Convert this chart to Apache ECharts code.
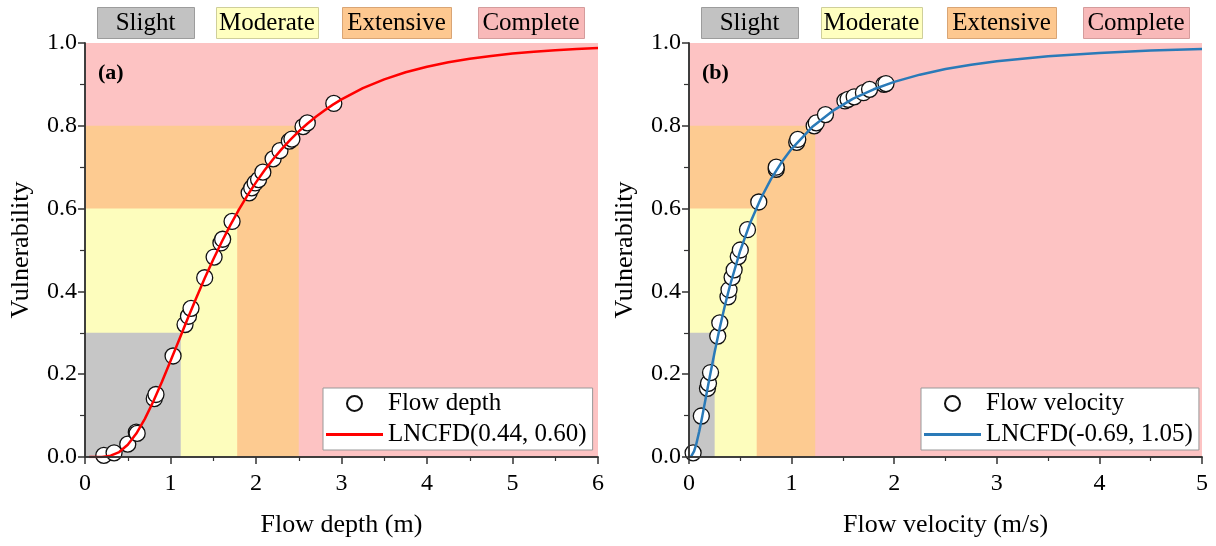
<!DOCTYPE html>
<html>
<head>
<meta charset="utf-8">
<script src="https://cdn.jsdelivr.net/npm/echarts@6/dist/echarts.min.js"></script>
<style>
  html, body { margin: 0; padding: 0; background: #fff; }
  #chart { width: 1216px; height: 546px; }
</style>
</head>
<body>
<div id="chart"></div>
<script>
// damage states and thresholds
const damageStates = ['Slight', 'Moderate', 'Extensive', 'Complete'];
const stateLevels = [0.3, 0.6, 0.8, 1.0];
const depthLimits = [1.12, 1.78, 2.5, 6];
const velocityLimits = [0.25, 0.66, 1.23, 5];

// (a) flow depth observations
const depthObsX = [0.22, 0.34, 0.50, 0.60, 0.61, 0.81, 0.83, 1.03, 1.17, 1.21, 1.24, 1.40, 1.51, 1.59, 1.61, 1.72,
  1.92, 1.95, 1.99, 2.03, 2.08, 2.20, 2.28, 2.39, 2.42, 2.55, 2.60, 2.91];
const depthObsV = [0.004, 0.010, 0.031, 0.060, 0.057, 0.141, 0.151, 0.244, 0.320, 0.340, 0.359, 0.433, 0.483, 0.517, 0.526, 0.569,
  0.638, 0.650, 0.662, 0.670, 0.688, 0.720, 0.740, 0.763, 0.768, 0.798, 0.807, 0.854];

// (a) fitted curve
const depthCurveX = [0.05, 0.1, 0.2, 0.3, 0.4, 0.5, 0.6, 0.7, 0.8, 0.9, 1.0, 1.1, 1.2, 1.3, 1.4, 1.5, 1.6, 1.7, 1.8, 1.9,
  2.0, 2.1, 2.2, 2.3, 2.4, 2.5, 2.6, 2.7, 2.8, 2.9, 3.0, 3.25, 3.5, 3.75, 4.0, 4.25, 4.5, 4.75, 5.0, 5.25, 5.5, 5.75, 6.0];
const depthCurveV = [0, 0, 0.0003, 0.0031, 0.0119, 0.0294, 0.0565, 0.0921, 0.1346, 0.1817, 0.2318, 0.2828, 0.3338, 0.3836, 0.4315, 0.4771, 0.5199, 0.5600, 0.5973, 0.6318,
  0.6634, 0.6926, 0.7193, 0.7437, 0.7660, 0.7864, 0.8049, 0.8218, 0.8371, 0.8511, 0.8638, 0.8909, 0.9122, 0.9292, 0.9426, 0.9533, 0.9619, 0.9688, 0.9744, 0.9788, 0.9825, 0.9854, 0.9879];

// (b) flow velocity observations
const velObsX = [0.04, 0.12, 0.18, 0.19, 0.21, 0.28, 0.30, 0.38, 0.39, 0.42, 0.44, 0.48, 0.50, 0.57, 0.68, 0.85, 0.85,
  1.05, 1.06, 1.22, 1.24, 1.33, 1.52, 1.55, 1.61, 1.70, 1.76, 1.90, 1.92];
const velObsV = [0.010, 0.099, 0.166, 0.178, 0.204, 0.292, 0.324, 0.387, 0.404, 0.434, 0.452, 0.484, 0.500, 0.549, 0.616, 0.695, 0.700,
  0.760, 0.767, 0.800, 0.807, 0.827, 0.860, 0.864, 0.870, 0.880, 0.888, 0.900, 0.902];

// (b) fitted curve
const velCurveX = [0, 0.01, 0.02, 0.03, 0.05, 0.07, 0.1, 0.13, 0.16, 0.2, 0.25, 0.3, 0.35, 0.4, 0.5, 0.6, 0.7, 0.8, 0.9,
  1.0, 1.2, 1.4, 1.6, 1.8, 2.0, 2.25, 2.5, 2.75, 3.0, 3.5, 4.0, 4.5, 5.0];
const velCurveV = [0, 0.0001, 0.0011, 0.0036, 0.0140, 0.0304, 0.0623, 0.0993, 0.1383, 0.1906, 0.2537, 0.3122, 0.3658, 0.4149, 0.4989, 0.5678, 0.6244, 0.6718, 0.7112,
  0.7445, 0.7970, 0.8359, 0.8655, 0.8882, 0.9061, 0.9235, 0.9370, 0.9474, 0.9558, 0.9679, 0.9760, 0.9817, 0.9857];

const FONT = "'Liberation Serif', 'Times New Roman', serif";
const zoneColors = ['#c6c6c6', '#fdfdbd', '#fdcb91', '#fdc3c3'];
const boxFill = ['#c2c2c2', '#ffffc0', '#fdc890', '#f8b9b9'];
const boxStroke = ['#9c9c9c', '#cfcf9a', '#d9a575', '#d49c9c'];

let chart = echarts.init(document.getElementById('chart'));

function zip(xs, ys) {
  return xs.map((x, i) => [x, ys[i]]);
}

// zones: drawn largest first so the smaller ones sit on top
function zoneAreas(limits) {
  let out = [];
  for (let i = damageStates.length - 1; i >= 0; i--) {
    out.push([
      { xAxis: 0, yAxis: 0, itemStyle: { color: zoneColors[i] } },
      { xAxis: limits[i], yAxis: stateLevels[i] }
    ]);
  }
  return out;
}

function mainX(max, name, gridIndex) {
  return {
    type: 'value', gridIndex: gridIndex, min: 0, max: max, interval: 1, z: 10,
    name: name, nameLocation: 'middle', nameGap: 55,
    nameTextStyle: { fontFamily: FONT, fontSize: 26, color: '#000' },
    axisLine: { lineStyle: { color: '#333', width: 1.5 } },
    axisTick: { length: 7, lineStyle: { color: '#333', width: 1.5 } },
    minorTick: { show: true, splitNumber: 2, length: 4, lineStyle: { color: '#333', width: 1.2 } },
    axisLabel: { fontFamily: FONT, fontSize: 24, color: '#000', margin: 15 },
    splitLine: { show: false }
  };
}
function mainY(gridIndex) {
  return {
    type: 'value', gridIndex: gridIndex, min: 0, max: 1, interval: 0.2, z: 10,
    name: 'Vulnerability', nameLocation: 'middle', nameGap: 51,
    nameTextStyle: { fontFamily: FONT, fontSize: 26, color: '#000' },
    axisLine: { lineStyle: { color: '#333', width: 1.5 } },
    axisTick: { length: 7, lineStyle: { color: '#333', width: 1.5 } },
    minorTick: { show: true, splitNumber: 2, length: 5, lineStyle: { color: '#333', width: 1.2 } },
    axisLabel: { fontFamily: FONT, fontSize: 24, color: '#000', margin: 8, formatter: v => v.toFixed(1) },
    splitLine: { show: false }
  };
}
function frameAxis(kind, gridIndex, max) {
  return {
    type: 'value', gridIndex: gridIndex, min: 0, max: max, z: 10,
    position: kind === 'x' ? 'top' : 'right',
    axisLine: { show: true, lineStyle: { color: '#333', width: 1.5 } },
    axisTick: { show: false }, axisLabel: { show: false }, splitLine: { show: false }
  };
}

function obsSeries(name, xi, yi, xs, ys) {
  return {
    name: name, type: 'scatter', xAxisIndex: xi, yAxisIndex: yi, z: 4,
    symbol: 'circle', symbolSize: 16,
    itemStyle: { color: '#ffffff', opacity: 1, borderColor: '#111', borderWidth: 1.3 },
    emphasis: { disabled: true },
    data: zip(xs, ys)
  };
}
function curveSeries(name, xi, yi, xs, ys, color) {
  return {
    name: name, type: 'line', xAxisIndex: xi, yAxisIndex: yi, z: 6,
    showSymbol: false, symbol: 'none', smooth: false,
    lineStyle: { color: color, width: 2.5 }, itemStyle: { color: color },
    data: zip(xs, ys)
  };
}

// header boxes above each panel
const headerBoxes = [
  [97, 97], [216, 102], [342, 109], [478, 106],
  [701, 97], [821, 101], [947, 109], [1083, 106]
];
let graphics = [];
headerBoxes.forEach((b, i) => {
  let k = i % 4;
  graphics.push({
    type: 'rect', left: b[0], top: 7, z: 20,
    shape: { width: b[1], height: 31 },
    style: { fill: boxFill[k], stroke: boxStroke[k], lineWidth: 1 }
  });
  graphics.push({
    type: 'text', x: b[0] + b[1] / 2, y: 23, z: 21,
    style: { text: damageStates[k], fontFamily: FONT, fontSize: 25, fill: '#000', align: 'center', verticalAlign: 'middle' }
  });
});
graphics.push({ type: 'text', x: 98, y: 73, z: 21,
  style: { text: '(a)', fontFamily: FONT, fontSize: 22, fontWeight: 'bold', fill: '#000', verticalAlign: 'middle' } });
graphics.push({ type: 'text', x: 702, y: 73, z: 21,
  style: { text: '(b)', fontFamily: FONT, fontSize: 22, fontWeight: 'bold', fill: '#000', verticalAlign: 'middle' } });

const lineIcon = 'path://M0,0L60,0L60,3L0,3Z';

function legendBox(left, names) {
  return {
    orient: 'vertical', left: left, top: 388, z: 20,
    backgroundColor: '#fff', borderColor: '#999', borderWidth: 1, borderRadius: 0,
    padding: [3, 6, 3, 3], itemGap: 6, itemWidth: 57, itemHeight: 15,
    textStyle: { fontFamily: FONT, fontSize: 25, color: '#000' },
    selectedMode: false,
    data: [{ name: names[0], icon: 'circle' }, { name: names[1], icon: lineIcon }]
  };
}

chart.setOption({
  backgroundColor: '#fff',
  animation: false,
  graphic: graphics,
  grid: [
    { left: 85, right: 618, top: 43, bottom: 89 },
    { left: 689, right: 14, top: 43, bottom: 89 }
  ],
  legend: [
    legendBox(323, ['Flow depth', 'LNCFD(0.44, 0.60)']),
    legendBox(921, ['Flow velocity', 'LNCFD(-0.69, 1.05)'])
  ],
  xAxis: [
    mainX(6, 'Flow depth (m)', 0),
    frameAxis('x', 0, 6),
    mainX(5, 'Flow velocity (m/s)', 1),
    frameAxis('x', 1, 5)
  ],
  yAxis: [
    mainY(0),
    frameAxis('y', 0, 1),
    mainY(1),
    frameAxis('y', 1, 1)
  ],
  series: [
    { type: 'line', xAxisIndex: 0, yAxisIndex: 0, z: 1, data: [], silent: true,
      markArea: { silent: true, itemStyle: { opacity: 1 }, data: zoneAreas(depthLimits) } },
    { type: 'line', xAxisIndex: 2, yAxisIndex: 2, z: 1, data: [], silent: true,
      markArea: { silent: true, itemStyle: { opacity: 1 }, data: zoneAreas(velocityLimits) } },
    curveSeries('LNCFD(0.44, 0.60)', 0, 0, depthCurveX, depthCurveV, '#ff0000'),
    obsSeries('Flow depth', 0, 0, depthObsX, depthObsV),
    curveSeries('LNCFD(-0.69, 1.05)', 2, 2, velCurveX, velCurveV, '#2a7ab8'),
    obsSeries('Flow velocity', 2, 2, velObsX, velObsV)
  ]
});
</script>
</body>
</html>
